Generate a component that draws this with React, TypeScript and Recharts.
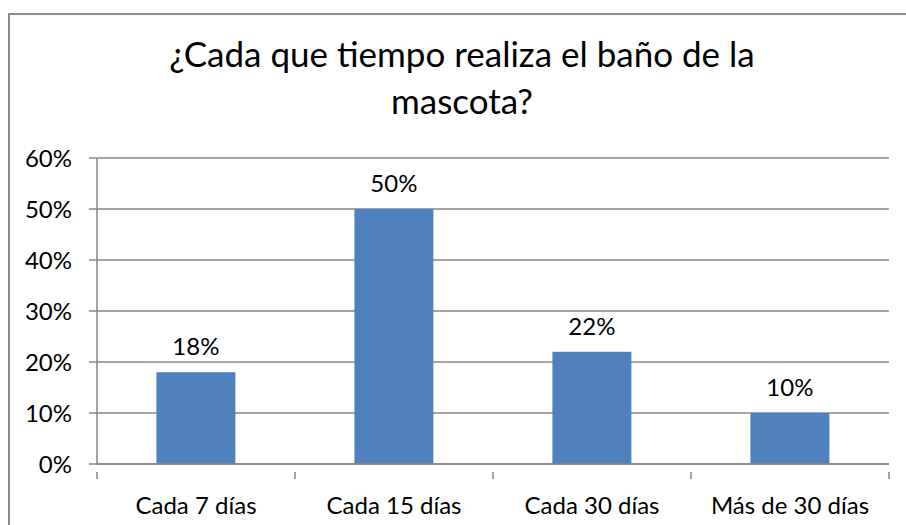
import { BarChart, Bar, XAxis, YAxis, CartesianGrid, LabelList } from 'recharts';

const categories = ['Cada 7 días', 'Cada 15 días', 'Cada 30 días', 'Más de 30 días'];
const values = [18, 50, 22, 10];
const yTicks = [0, 10, 20, 30, 40, 50, 60];

const data = categories.map((name, i) => ({ name, value: values[i] }));

const FONT = 'Lato, "Open Sans", sans-serif';
const AXIS_GRAY = '#868686';
const PLOT_LEFT = 97;
const PLOT_RIGHT = 889;
const HALF_BAND = (PLOT_RIGHT - PLOT_LEFT) / categories.length / 2;

function CategoryTick(props: any) {
  const { x, y, payload, index } = props;
  const last = index === categories.length - 1;
  return (
    <g>
      <line x1={x - HALF_BAND} x2={x - HALF_BAND} y1={y} y2={y + 7} stroke={AXIS_GRAY} strokeWidth={1.5} />
      {last && (
        <line x1={x + HALF_BAND} x2={x + HALF_BAND} y1={y} y2={y + 7} stroke={AXIS_GRAY} strokeWidth={1.5} />
      )}
      <text x={x} y={y + 34} dy="0.35em" textAnchor="middle" fill="#000" fontSize={24} fontFamily={FONT}>
        {payload.value}
      </text>
    </g>
  );
}

export default function App() {
  return (
    <div style={{ position: 'absolute', left: 0, top: 0, width: 906, height: 525, overflow: 'hidden', background: '#fff' }}>
      <div
        style={{
          position: 'absolute',
          left: 8,
          top: 13,
          width: 906,
          height: 525,
          border: '2px solid #8c8c8c',
          boxSizing: 'border-box',
        }}
      />
      <div
        style={{
          position: 'absolute',
          left: 0,
          top: 30,
          width: 924,
          textAlign: 'center',
          fontFamily: FONT,
          fontSize: 35,
          lineHeight: '47px',
          color: '#000',
        }}
      >
        ¿Cada que tiempo realiza el baño de la
        <br />
        mascota?
      </div>
      <div style={{ position: 'absolute', left: 0, top: 0 }}>
        <BarChart
          width={906}
          height={525}
          data={data}
          margin={{ top: 158, right: 906 - PLOT_RIGHT, bottom: 0, left: 0 }}
          barCategoryGap="30%"
        >
          <CartesianGrid vertical={false} stroke={AXIS_GRAY} strokeWidth={1.5} />
          <XAxis
            dataKey="name"
            height={61}
            stroke={AXIS_GRAY}
            strokeWidth={1.5}
            tickLine={false}
            interval={0}
            tick={<CategoryTick />}
          />
          <YAxis
            width={PLOT_LEFT}
            domain={[0, 60]}
            ticks={yTicks}
            tickFormatter={(v) => `${v}%`}
            stroke={AXIS_GRAY}
            strokeWidth={1.5}
            tickSize={8}
            tickMargin={17}
            tick={{ fill: '#000', fontSize: 24, fontFamily: FONT }}
          />
          <Bar dataKey="value" fill="#4F81BD" isAnimationActive={false}>
            <LabelList
              dataKey="value"
              position="top"
              offset={17}
              formatter={(v: any) => `${v}%`}
              style={{ fill: '#000', fontSize: 24, fontFamily: FONT }}
            />
          </Bar>
        </BarChart>
      </div>
    </div>
  );
}
